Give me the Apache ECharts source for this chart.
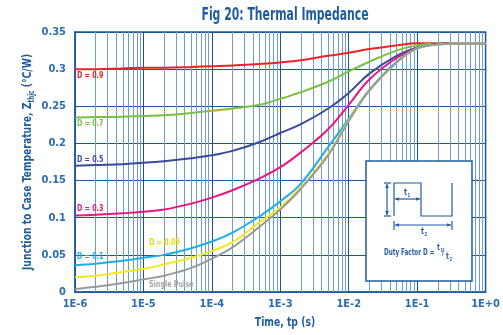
<!DOCTYPE html>
<html><head><meta charset="utf-8">
<script src="https://cdn.jsdelivr.net/npm/echarts@6/dist/echarts.min.js"></script>
<style>html,body{margin:0;padding:0;background:#fff}#c{width:503px;height:335px}</style>
</head><body><div id="c"></div>
<script>
const times = [1e-6,2e-6,5e-6,1e-5,2e-5,5e-5,1e-4,2e-4,5e-4,1e-3,2e-3,5e-3,1e-2,2e-2,5e-2,1e-1,2e-1,5e-1,1];
const d09 = [0.300,0.300,0.301,0.302,0.302,0.303,0.304,0.305,0.307,0.309,0.312,0.318,0.322,0.327,0.332,0.335,0.335,0.335,0.335];
const d07 = [0.235,0.2355,0.236,0.237,0.238,0.241,0.244,0.247,0.252,0.260,0.269,0.283,0.297,0.310,0.325,0.332,0.335,0.335,0.335];
const d05 = [0.170,0.171,0.172,0.174,0.176,0.180,0.184,0.190,0.202,0.214,0.226,0.247,0.268,0.294,0.318,0.329,0.334,0.335,0.335];
const d03 = [0.103,0.104,0.106,0.108,0.111,0.119,0.127,0.137,0.153,0.168,0.188,0.219,0.252,0.286,0.315,0.328,0.334,0.335,0.335];
const d01 = [0.036,0.038,0.042,0.046,0.050,0.059,0.068,0.080,0.102,0.122,0.146,0.195,0.233,0.272,0.310,0.328,0.333,0.335,0.335];
const d005 = [0.020,0.022,0.027,0.031,0.037,0.046,0.055,0.067,0.094,0.114,0.141,0.186,0.231,0.271,0.309,0.328,0.333,0.335,0.335];
const single = [0.004,0.007,0.012,0.017,0.022,0.0325,0.045,0.060,0.088,0.111,0.139,0.184,0.230,0.271,0.309,0.328,0.333,0.335,0.335];
const xTickLabels = {"-6":"1E-6","-5":"1E-5","-4":"1E-4","-3":"1E-3","-2":"1E-2","-1":"1E-1","0":"1E+0"};
const yTicks = [0,0.05,0.1,0.15,0.2,0.25,0.3,0.35];

const FONT = '"Liberation Sans Narrow","DejaVu Sans Condensed","Roboto",sans-serif';
const BLUE = '#1f5c9e';
const minorVals = [];
for (let e = -6; e < 0; e++) for (let m = 2; m <= 9; m++) minorVals.push(m * Math.pow(10, e));

function mk(name, data, color) {
  return {
    name, type: 'line', smooth: 0.4, showSymbol: false, symbol: 'none',
    data: times.map((t, i) => [t, data[i]]),
    lineStyle: {color, width: 2}, itemStyle: {color}, z: 5
  };
}
const series = [
  {type:'lines', coordinateSystem:'cartesian2d', silent:true, z:1,
   lineStyle:{color:'#6f9ccb', width:1, opacity:1},
   data: minorVals.map(v => ({coords: [[v, 0], [v, 0.35]]}))},
  mk('D = 0.9', d09, '#ec2227'),
  mk('D = 0.7', d07, '#7bc043'),
  mk('D = 0.5', d05, '#3a4b9f'),
  mk('D = 0.3', d03, '#e8177f'),
  mk('D = 0.1', d01, '#1cb0e6'),
  mk('D = 0.05', d005, '#f2e81a'),
  mk('Single Pulse', single, '#9a9a9a')
];

function txt(x, y, s, color, size, sx, extra) {
  return Object.assign({type:'text', x, y, z: 100, scaleX: sx || 0.75,
    style:{text:s, fill:color, font:'bold '+(size||9.5)+'px '+FONT, verticalAlign:'middle', align:'left'}}, extra||{});
}
function ln(x1,y1,x2,y2){ return {type:'line', z:100, shape:{x1,y1,x2,y2}, style:{stroke:BLUE, lineWidth:1.2}}; }
function arrow(x,y,dir){
  const s=4;
  let pts;
  if (dir==='l') pts=[[x,y],[x+s,y-1.8],[x+s,y+1.8]];
  if (dir==='r') pts=[[x,y],[x-s,y-1.8],[x-s,y+1.8]];
  if (dir==='u') pts=[[x,y],[x-1.8,y+s],[x+1.8,y+s]];
  if (dir==='d') pts=[[x,y],[x-1.8,y-s],[x+1.8,y-s]];
  return {type:'polygon', z:100, shape:{points:pts}, style:{fill:BLUE}};
}

const chart = echarts.init(document.getElementById('c'), null, {renderer:'canvas'});
chart.setOption({
  animation: false,
  backgroundColor: '#fff',
  grid: {left:75, right:4, top:32, bottom:43, show:true, borderColor:BLUE, borderWidth:1.5, backgroundColor:'#fff'},
  xAxis: {type:'log', min:1e-6, max:1, logBase:10,
    axisLine:{show:true, lineStyle:{color:BLUE, width:1.5}},
    axisTick:{show:false},
    splitLine:{show:true, lineStyle:{color:'#1a5596', width:1}},
    axisLabel:{color:'#2a6db3', fontFamily:FONT, fontWeight:'bold', fontSize:11, margin:7,
      formatter: v => { const e = Math.round(Math.log10(v)); return xTickLabels[String(e)] || ''; }}
  },
  yAxis: {type:'value', min:0, max:0.35, interval:0.05,
    axisLine:{show:true, lineStyle:{color:BLUE, width:1.5}},
    axisTick:{show:false},
    splitLine:{show:true, lineStyle:{color:'#1a5596', width:1}},
    axisLabel:{color:'#2a6db3', fontFamily:FONT, fontWeight:'bold', fontSize:11, margin:9,
      formatter: v => { const m = yTicks.find(t => Math.abs(t - v) < 1e-9); return m === undefined ? '' : String(m); }}
  },
  series,
  graphic: [
    {type:'text', x:285, y:16, z:100, scaleX:0.71,
     style:{text:'Fig 20: Thermal Impedance', fill:BLUE, font:'bold 17px '+FONT, align:'center', verticalAlign:'middle'}},
    {type:'text', x:285, y:323, z:100, scaleX:0.79,
     style:{text:'Time, tp (s)', fill:BLUE, font:'bold 13px '+FONT, align:'center', verticalAlign:'middle'}},
    {type:'text', x:28, y:162, z:100, scaleX:0.79, rotation:Math.PI/2,
     style:{text:'Junction to Case Temperature, Z{s|thjc} (°C/W)', fill:BLUE, font:'bold 13px '+FONT,
       align:'center', verticalAlign:'middle',
       rich:{s:{fill:BLUE, font:'bold 8px '+FONT, padding:[7,0,0,0]}}}},
    txt(77, 76, 'D = 0.9', '#ec2227'),
    txt(77, 124, 'D = 0.7', '#7bc043'),
    txt(77, 160, 'D = 0.5', '#3a4b9f'),
    txt(77, 209, 'D = 0.3', '#e8177f'),
    txt(149, 243, 'D = 0.05', '#e9de00'),
    txt(77, 257, 'D = 0.1', '#1cb0e6'),
    txt(149, 285, 'Single Pulse', '#a5a5a5'),
    {type:'rect', z:90, shape:{x:366, y:161, width:106, height:120}, style:{fill:'#fff', stroke:BLUE, lineWidth:1.5}},
    {type:'polyline', z:100, shape:{points:[[394,216],[394,183],[421,183],[421,216],[452,216],[452,183]]}, style:{stroke:BLUE, lineWidth:1.2, fill:null}},
    ln(387,184,387,215), ln(384,183,391,183), ln(384,216,391,216), arrow(387,184,'u'), arrow(387,215,'d'),
    ln(395,199,420,199), arrow(395,199,'l'), arrow(420,199,'r'),
    txt(404, 193, 't', BLUE, 9.5), txt(407.5, 195.5, '1', BLUE, 5.5),
    ln(394,221,394,230), ln(452,221,452,230),
    ln(395,225,451,225), arrow(395,225,'l'), arrow(451,225,'r'),
    txt(421, 232, 't', BLUE, 9.5), txt(424.5, 234.5, '2', BLUE, 5.5),
    txt(384, 253, 'Duty Factor D =', BLUE, 9.5, 0.66),
    txt(437, 248, 't', BLUE, 9), txt(440.5, 250.5, '1', BLUE, 5.5),
    txt(442, 253, '/', BLUE, 9.5),
    txt(446, 257, 't', BLUE, 9), txt(449.5, 259.5, '2', BLUE, 5.5)
  ]
});
</script></body></html>
